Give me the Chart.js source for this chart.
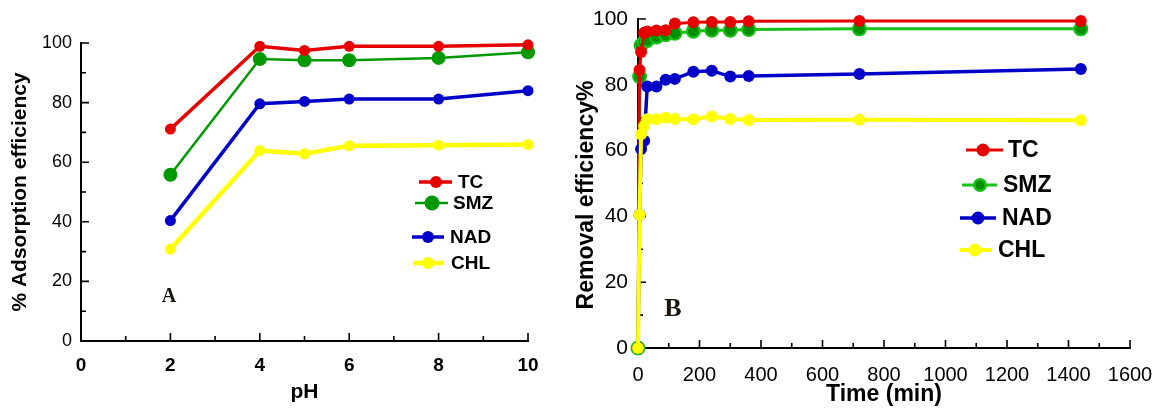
<!DOCTYPE html>
<html>
<head>
<meta charset="utf-8">
<script src="https://cdn.jsdelivr.net/npm/chart.js@4.4.1/dist/chart.umd.min.js"></script>
<style>
  html, body { margin:0; padding:0; background:#fff; }
  #wrap { position:relative; width:1159px; height:408px; }
  #wrap canvas { position:absolute; top:0; }
  #chartA { left:0; }
  #chartB { left:560px; }
</style>
</head>
<body>
<div id="wrap">
  <canvas id="chartA" width="560" height="408"></canvas>
  <canvas id="chartB" width="599" height="408"></canvas>
</div>
<script>
// ---- data ----
const seriesNames = ['TC', 'SMZ', 'NAD', 'CHL'];

// panel A: effect of pH
const phValues = [2, 4, 5, 6, 8, 10];
const phTC  = [71.1, 98.9, 97.5, 98.9, 98.9, 99.4];
const phSMZ = [55.8, 94.6, 94.2, 94.2, 95.0, 96.9];
const phNAD = [40.4, 79.6, 80.4, 81.2, 81.2, 84.0];
const phCHL = [30.8, 63.9, 62.8, 65.5, 65.7, 65.9];
const phTicks = [0, 2, 4, 6, 8, 10];

// panel B: contact time
const timeValues = [0, 5, 10, 20, 30, 60, 90, 120, 180, 240, 300, 360, 720, 1440];
const timeTC  = [0, 84.5, 90.0, 95.8, 96.2, 96.5, 96.6, 98.6, 99.0, 99.1, 99.1, 99.3, 99.4, 99.4];
const timeSMZ = [0, 82.5, 92.0, 93.0, 93.5, 94.5, 95.2, 95.7, 96.3, 96.6, 96.6, 96.8, 97.0, 97.0];
const timeNAD = [0, 40.5, 60.5, 63.0, 79.5, 79.5, 81.5, 81.8, 84.0, 84.3, 82.5, 82.7, 83.3, 84.8];
const timeCHL = [0, 40.5, 65.0, 67.5, 69.5, 69.5, 70.0, 69.6, 69.5, 70.4, 69.6, 69.3, 69.4, 69.2];
const timeTicks = [0, 200, 400, 600, 800, 1000, 1200, 1400, 1600];
const effTicks = [0, 20, 40, 60, 80, 100];

const SANS = "'Liberation Sans', Arial, sans-serif";
const SERIF = "'Liberation Serif', 'Times New Roman', serif";

const pts = (xs, ys) => xs.map((x, i) => ({ x: x, y: ys[i] }));

// inward tick marks (major + minor), drawn from the chart's own scales
const innerTicks = {
  id: 'innerTicks',
  beforeDatasetsDraw(chart, args, o) {
    const { ctx, chartArea: a } = chart;
    const xs = chart.scales.x, ys = chart.scales.y;
    const isMajor = (v, step) => Math.abs(v / step - Math.round(v / step)) < 1e-6;
    ctx.save();
    ctx.strokeStyle = '#000';
    ctx.lineWidth = 1.6;
    ctx.beginPath();
    for (let v = xs.min; v <= xs.max + 1e-9; v += o.xMinor) {
      const px = xs.getPixelForValue(v), len = isMajor(v, o.xMajor) ? 8 : 5;
      ctx.moveTo(px, a.bottom); ctx.lineTo(px, a.bottom - len);
    }
    for (let v = ys.min; v <= ys.max + 1e-9; v += o.yMinor) {
      const py = ys.getPixelForValue(v), len = isMajor(v, o.yMajor) ? 8 : 5;
      ctx.moveTo(a.left, py); ctx.lineTo(a.left + len, py);
    }
    ctx.stroke();
    ctx.restore();
  }
};

// hand-placed legend, panel letter and (optionally) an off-centre y title
const figLegend = {
  id: 'figLegend',
  afterDraw(chart, args, o) {
    const ctx = chart.ctx;
    ctx.save();
    chart.data.datasets.forEach((ds, i) => {
      const it = o.items[i];
      ctx.strokeStyle = ds.borderColor;
      ctx.lineWidth = ds.borderWidth;
      ctx.beginPath(); ctx.moveTo(it.x0, it.y); ctx.lineTo(it.x1, it.y); ctx.stroke();
      ctx.fillStyle = ds.pointBorderColor || ds.borderColor;
      ctx.beginPath(); ctx.arc(it.m, it.y, ds.pointRadius + 0.5, 0, Math.PI * 2); ctx.fill();
      if (ds.pointBackgroundColor && ds.pointBackgroundColor !== ds.borderColor) {
        ctx.fillStyle = ds.pointBackgroundColor;
        ctx.beginPath(); ctx.arc(it.m, it.y, ds.pointRadius - 2, 0, Math.PI * 2); ctx.fill();
      }
      ctx.fillStyle = '#000';
      ctx.font = 'bold ' + o.size + 'px ' + SANS;
      ctx.textBaseline = 'middle';
      ctx.textAlign = 'left';
      ctx.fillText(ds.label, it.t, it.y + 1);
    });
    ctx.fillStyle = '#1a1410';
    ctx.font = 'bold ' + o.letterSize + 'px ' + SERIF;
    ctx.textAlign = 'center';
    ctx.textBaseline = 'middle';
    ctx.fillText(o.letter, o.letterX, o.letterY);
    if (o.yTitle) {
      ctx.fillStyle = '#000';
      ctx.font = 'bold ' + o.yTitle.size + 'px ' + SANS;
      ctx.translate(o.yTitle.x, o.yTitle.y);
      ctx.rotate(-Math.PI / 2);
      ctx.fillText(o.yTitle.text, 0, 0);
    }
    ctx.restore();
  }
};

function line(label, data, color, width, radius, order, extra) {
  return Object.assign({
    label: label, data: data, order: order,
    borderColor: color, backgroundColor: color, borderWidth: width,
    pointRadius: radius, pointHoverRadius: radius,
    pointBackgroundColor: color, pointBorderColor: color, pointBorderWidth: 0,
    tension: 0, fill: false, clip: false
  }, extra || {});
}

function axis(min, max, tickList, sizes) {
  return {
    type: 'linear', min: min, max: max,
    grid: { display: false, drawTicks: false },
    border: { display: true, color: '#000', width: 2 },
    afterBuildTicks: s => { s.ticks = tickList.map(v => ({ value: v })); },
    afterFit: s => {
      if (s.isHorizontal()) s.height = sizes.box; else s.width = sizes.box;
      s.paddingLeft = s.paddingRight = s.paddingTop = s.paddingBottom = 0;
    },
    ticks: {
      color: '#000', padding: sizes.pad, maxRotation: 0, autoSkip: false,
      font: { family: SANS, size: sizes.font, weight: sizes.weight },
      callback: v => String(v)
    },
    title: { display: !!sizes.title, text: sizes.title, color: '#000', font: { family: SANS, size: sizes.titleSize, weight: 'bold' }, padding: sizes.titlePad }
  };
}

Chart.defaults.animation = false;
Chart.defaults.responsive = false;
Chart.defaults.events = [];

new Chart(document.getElementById('chartA'), {
  type: 'line',
  data: { datasets: [
    line(seriesNames[0], pts(phValues, phTC),  '#e60000', 3.5, 5.5, 2),
    line(seriesNames[1], pts(phValues, phSMZ), '#009a00', 2.5, 7,   3),
    line(seriesNames[2], pts(phValues, phNAD), '#0000c8', 3.5, 5.5, 1),
    line(seriesNames[3], pts(phValues, phCHL), '#ffff00', 4.5, 5.5, 0)
  ]},
  options: {
    layout: { padding: { left: 0, right: 32, top: 43, bottom: 0 } },
    plugins: {
      legend: { display: false }, tooltip: { enabled: false },
      innerTicks: { xMinor: 1, xMajor: 2, yMinor: 10, yMajor: 20 },
      figLegend: {
        size: 19, letter: 'A', letterSize: 20, letterX: 169, letterY: 297,
        items: [
          { x0: 419, x1: 452, m: 436, y: 182, t: 458 },
          { x0: 415, x1: 448, m: 432, y: 203, t: 453 },
          { x0: 412, x1: 444, m: 428, y: 237, t: 450 },
          { x0: 413, x1: 444, m: 428, y: 263, t: 451 }
        ]
      }
    },
    scales: {
      x: axis(0, 10, phTicks, { box: 67, pad: 13, font: 19, weight: 'bold', title: 'pH', titleSize: 21, titlePad: { top: 0, bottom: 3 } }),
      y: axis(0, 100, effTicks, { box: 81, pad: 9, font: 18, weight: 'normal', title: '% Adsorption efficiency', titleSize: 21, titlePad: { top: 8, bottom: 0 } })
    }
  },
  plugins: [innerTicks, figLegend]
});

new Chart(document.getElementById('chartB'), {
  type: 'line',
  data: { datasets: [
    line(seriesNames[0], pts(timeValues, timeTC),  '#e60000', 3, 6,   2),
    line(seriesNames[1], pts(timeValues, timeSMZ), '#19c019', 3, 6.5, 3, { pointBackgroundColor: '#009000', pointBorderColor: '#19c019', pointBorderWidth: 2 }),
    line(seriesNames[2], pts(timeValues, timeNAD), '#0000c8', 3.5, 6, 1),
    line(seriesNames[3], pts(timeValues, timeCHL), '#ffff00', 4, 6,   0)
  ]},
  options: {
    layout: { padding: { left: 0, right: 29, top: 19, bottom: 0 } },
    plugins: {
      legend: { display: false }, tooltip: { enabled: false },
      innerTicks: { xMinor: 100, xMajor: 200, yMinor: 10, yMajor: 20 },
      figLegend: {
        size: 23, letter: 'B', letterSize: 26, letterX: 113, letterY: 309,
        yTitle: { text: 'Removal efficiency%', size: 23, x: 27, y: 195 },
        items: [
          { x0: 406, x1: 443, m: 423, y: 150, t: 448 },
          { x0: 402, x1: 437, m: 420, y: 185, t: 443 },
          { x0: 400, x1: 436, m: 418, y: 218, t: 442 },
          { x0: 400, x1: 432, m: 415, y: 250, t: 438 }
        ]
      }
    },
    scales: {
      x: axis(0, 1600, timeTicks, { box: 60, pad: 15, font: 20, weight: 'normal', title: 'Time (min)', titleSize: 23, titlePad: { top: 0, bottom: 0 } }),
      y: axis(0, 100, effTicks, { box: 78, pad: 10, font: 21, weight: 'normal', title: '', titleSize: 23, titlePad: { top: 13, bottom: 0 } })
    }
  },
  plugins: [innerTicks, figLegend]
});
</script>
</body>
</html>
